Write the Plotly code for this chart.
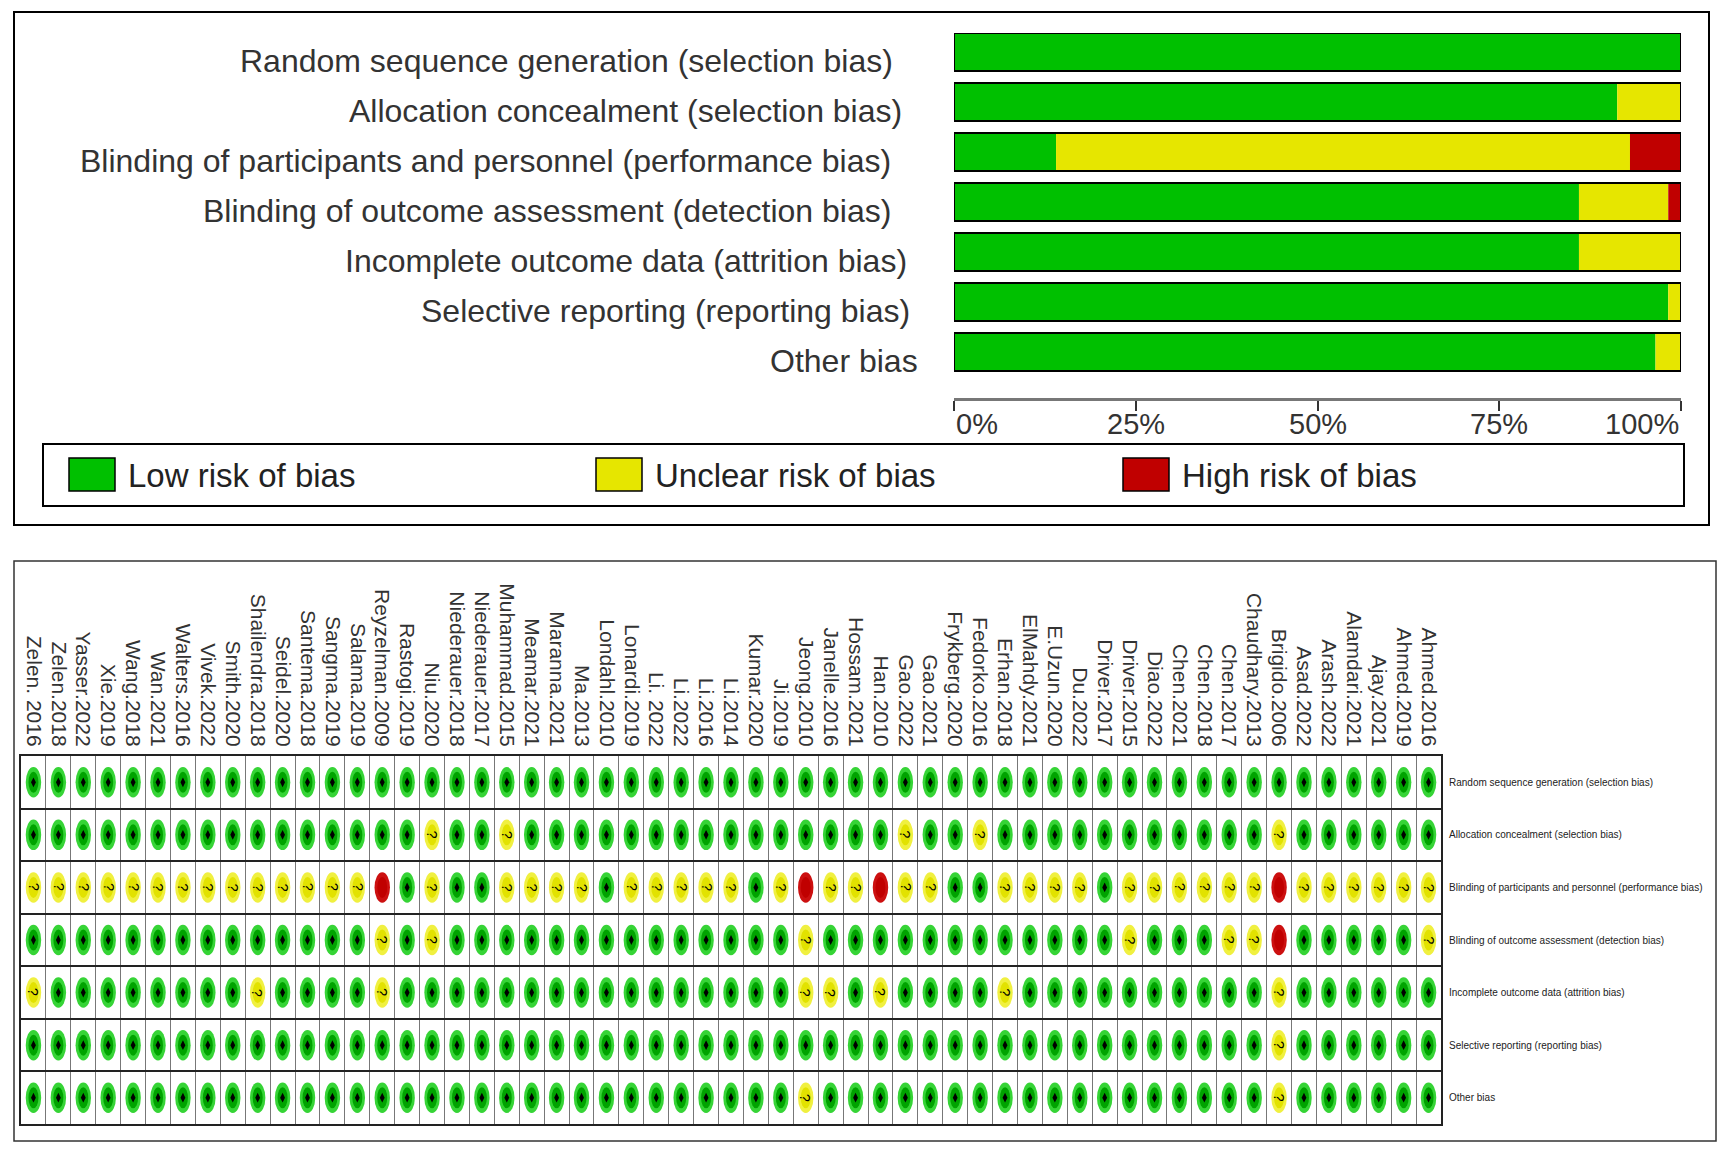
import plotly.graph_objects as go

# the page body adds an 8 px margin, so the figure is placed 8 px in and sized to fit
OFF = 8
W, H = 1720, 1143


def px(x):
    return (x - OFF) / W


def py(y):
    return 1 - (y - OFF) / H


domains = [
    "Random sequence generation (selection bias)",
    "Allocation concealment (selection bias)",
    "Blinding of participants and personnel (performance bias)",
    "Blinding of outcome assessment (detection bias)",
    "Incomplete outcome data (attrition bias)",
    "Selective reporting (reporting bias)",
    "Other bias",
]

studies = [
    "Zelen. 2016", "Zelen.2018", "Yasser.2022", "Xie.2019", "Wang.2018", "Wan.2021",
    "Walters.2016", "Vivek.2022", "Smith.2020", "Shailendra.2018", "Seidel.2020",
    "Santema.2018", "Sangma.2019", "Salama.2019", "Reyzelman.2009", "Rastogi.2019",
    "Niu.2020", "Niederauer.2018", "Niederauer.2017", "Muhammad.2015", "Meamar.2021",
    "Maranna.2021", "Ma.2013", "Londahl.2010", "Lonardi.2019", "Li. 2022", "Li.2022",
    "Li.2016", "Li.2014", "Kumar.2020", "Ji.2019", "Jeong.2010", "Janelle.2016",
    "Hossam.2021", "Han.2010", "Gao.2022", "Gao.2021", "Frykberg.2020", "Fedorko.2016",
    "Erhan.2018", "ElMahdy.2021", "E.Uzun.2020", "Du.2022", "Driver.2017", "Driver.2015",
    "Diao.2022", "Chen.2021", "Chen.2018", "Chen.2017", "Chaudhary.2013", "Brigido.2006",
    "Asad.2022", "Arash.2022", "Alamdari.2021", "Ajay.2021", "Ahmed.2019", "Ahmed.2016",
]

# L = low, U = unclear, H = high; one string per domain, one char per study (groups of 10)
random_seq = "LLLLLLLLLL" "LLLLLLLLLL" "LLLLLLLLLL" "LLLLLLLLLL" "LLLLLLLLLL" "LLLLLLL"
allocation = "LLLLLLLLLL" "LLLLLLULLU" "LLLLLLLLLL" "LLLLLULLUL" "LLLLLLLLLL" "ULLLLLL"
blind_part = "UUUUUUUUUU" "UUUUHLULLU" "UUULUUUUUL" "UHUUHUULLU" "UUULUUUUUU" "HUUUUUU"
blind_out = "LLLLLLLLLL" "LLLLULULLL" "LLLLLLLLLL" "LULLLLLLLL" "LLLLULLLUU" "HLLLLLU"
attrition = "ULLLLLLLLU" "LLLLULLLLL" "LLLLLLLLLL" "LUULULLLLU" "LLLLLLLLLL" "ULLLLLL"
reporting = "LLLLLLLLLL" "LLLLLLLLLL" "LLLLLLLLLL" "LLLLLLLLLL" "LLLLLLLLLL" "ULLLLLL"
other = "LLLLLLLLLL" "LLLLLLLLLL" "LLLLLLLLLL" "LULLLLLLLL" "LLLLLLLLLL" "ULLLLLL"

judgements = [random_seq, allocation, blind_part, blind_out, attrition, reporting, other]

tick_vals = [0, 25, 50, 75, 100]
tick_text = ["0%", "25%", "50%", "75%", "100%"]
legend_labels = ["Low risk of bias", "Unclear risk of bias", "High risk of bias"]

# right end (pixels) of each domain label in the top panel; they are not quite aligned
label_ends = [895, 904, 893, 893, 909, 912, 920]

GREEN = "#00c000"
YELLOW = "#e6e600"
RED = "#c00000"

n = len(studies)
pct_low = [100 * s.count("L") / n for s in judgements]
pct_unc = [100 * s.count("U") / n for s in judgements]
pct_high = [100 * s.count("H") / n for s in judgements]
rows = list(range(len(domains)))

fig = go.Figure()

# summary bars (top panel)
fig.add_trace(go.Bar(y=rows, x=pct_low, base=0, orientation="h", width=0.76,
                     marker=dict(color=GREEN, line=dict(width=0)), hoverinfo="skip"))
fig.add_trace(go.Bar(y=rows, x=pct_unc, base=pct_low, orientation="h", width=0.76,
                     marker=dict(color=YELLOW, line=dict(width=0)), hoverinfo="skip"))
fig.add_trace(go.Bar(y=rows, x=pct_high, base=[a + b for a, b in zip(pct_low, pct_unc)],
                     orientation="h", width=0.76,
                     marker=dict(color=RED, line=dict(width=0)), hoverinfo="skip"))
fig.add_trace(go.Bar(y=rows, x=[100] * len(rows), base=0, orientation="h", width=0.76,
                     marker=dict(color="rgba(0,0,0,0)", line=dict(color="black", width=2)),
                     hoverinfo="skip"))

shapes = []
annotations = []

# domain labels of the top panel (sit a little below the bar centres)
for r, (label, end) in enumerate(zip(domains, label_ends)):
    annotations.append(dict(x=px(end), y=r, xref="paper", yref="y", text=label,
                            showarrow=False, xanchor="right", yanchor="middle", yshift=-9,
                            font=dict(size=32, color="#333")))

# summary grid (bottom panel)
plus_x, plus_y = [], []
for r, row in enumerate(judgements):
    for c, code in enumerate(row):
        if code == "L":
            outer, inner = "#36d436", "#00a300"
        elif code == "U":
            outer, inner = "#f0f040", "#e2e200"
        else:
            outer, inner = "#cc1010", "#c00000"
        shapes.append(dict(type="circle", xref="x2", yref="y2", layer="between",
                           x0=c - 0.31, x1=c + 0.31, y0=r - 0.29, y1=r + 0.29,
                           fillcolor=outer, line=dict(width=0)))
        shapes.append(dict(type="circle", xref="x2", yref="y2", layer="between",
                           x0=c - 0.2, x1=c + 0.2, y0=r - 0.2, y1=r + 0.2,
                           fillcolor=inner, line=dict(width=0)))
        if code == "L":
            plus_x.append(c)
            plus_y.append(r)
        elif code == "U":
            annotations.append(dict(x=c, y=r, xref="x2", yref="y2", text="?", textangle=90,
                                    showarrow=False, font=dict(size=14, color="black")))

fig.add_trace(go.Scatter(x=plus_x, y=plus_y, mode="markers", xaxis="x2", yaxis="y2",
                         marker=dict(symbol="diamond-tall", size=7, color="black"),
                         hoverinfo="skip"))

# percent labels under the summary axis
for v, t in zip(tick_vals, tick_text):
    anchor = "left" if v == tick_vals[0] else ("right" if v == tick_vals[-1] else "center")
    annotations.append(dict(x=v, y=py(424), xref="x", yref="paper", text=t,
                            showarrow=False, xanchor=anchor, yanchor="middle",
                            font=dict(size=29, color="#333")))

# frames and legend
shapes.append(dict(type="rect", xref="paper", yref="paper", x0=px(14), x1=px(1709),
                   y0=py(12), y1=py(525), line=dict(color="black", width=2)))
shapes.append(dict(type="rect", xref="paper", yref="paper", x0=px(14), x1=px(1716),
                   y0=py(561), y1=py(1141), line=dict(color="#333", width=1.5)))
shapes.append(dict(type="rect", xref="paper", yref="paper", x0=px(43), x1=px(1684),
                   y0=py(444), y1=py(506), line=dict(color="black", width=2)))
for label, color, x0 in zip(legend_labels, [GREEN, YELLOW, RED], [69, 596, 1123]):
    shapes.append(dict(type="rect", xref="paper", yref="paper", x0=px(x0), x1=px(x0 + 46),
                       y0=py(458), y1=py(491), fillcolor=color,
                       line=dict(color="black", width=1.5)))
    annotations.append(dict(x=px(x0 + 57), y=py(475), xref="paper", yref="paper",
                            text=label, showarrow=False, xanchor="left", yanchor="middle",
                            font=dict(size=33, color="#222")))

fig.update_layout(
    width=W, height=H,
    margin=dict(l=0, r=0, t=0, b=0, autoexpand=False),
    paper_bgcolor="white", plot_bgcolor="white",
    font=dict(family="Liberation Sans, Arial, sans-serif", color="#222"),
    barmode="overlay",
    showlegend=False,
    shapes=shapes,
    annotations=annotations,
    xaxis=dict(domain=[px(954), px(1681)], range=[0, 100], anchor="y", automargin=False,
               tickvals=tick_vals, ticks="outside", ticklen=10, showticklabels=False,
               tickwidth=2, tickcolor="#333", showline=True, linecolor="#777",
               linewidth=3, showgrid=False, zeroline=False),
    xaxis3=dict(overlaying="x", anchor="y", range=[0, 100], tickvals=tick_vals,
                automargin=False, ticks="inside", ticklen=8, tickwidth=2, tickcolor="#333",
                showticklabels=False, showline=False, showgrid=False, zeroline=False),
    yaxis=dict(domain=[py(398), py(33)], range=[6.92, -0.38], anchor="x", automargin=False,
               tickvals=rows, showticklabels=False, ticks="", showline=False,
               showgrid=False, zeroline=False),
    xaxis2=dict(domain=[px(21), px(1441)], range=[-0.5, n - 0.5], anchor="y2",
                automargin=False, side="top", tickvals=list(range(n)), ticktext=studies,
                tickangle=90, ticks="", ticklabelstandoff=0,
                tickfont=dict(size=21, color="#333"),
                showgrid=False, zeroline=False, showline=True, mirror=True,
                linecolor="#222", linewidth=2,
                minor=dict(tickvals=[k + 0.5 for k in range(n - 1)], showgrid=True,
                           gridcolor="#777", gridwidth=1, ticks="")),
    yaxis2=dict(domain=[py(1124), py(756)], range=[len(domains) - 0.5, -0.5], anchor="x2",
                automargin=False, side="right", tickvals=rows, ticktext=domains, ticks="",
                ticklabelstandoff=4,
                tickfont=dict(size=10, color="#222"),
                showgrid=False, zeroline=False, showline=True, mirror=True,
                linecolor="#222", linewidth=2,
                minor=dict(tickvals=[k + 0.5 for k in range(len(domains) - 1)],
                           showgrid=True, gridcolor="#222", gridwidth=2, ticks="")),
)

fig.write_html("out.html")
